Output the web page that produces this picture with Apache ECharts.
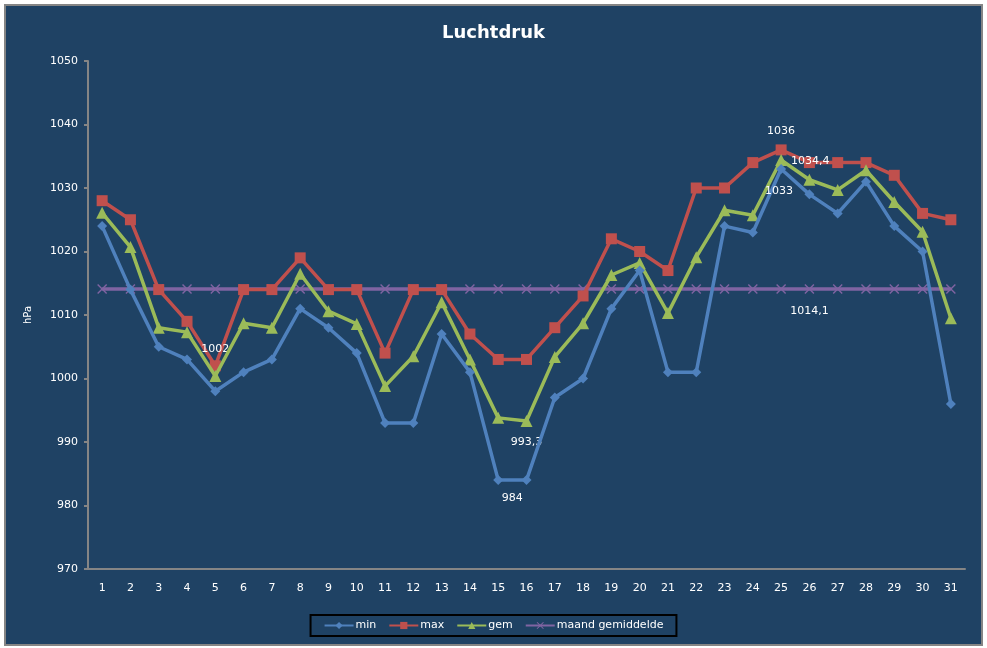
<!DOCTYPE html>
<html>
<head>
<meta charset="utf-8">
<script src="https://cdn.jsdelivr.net/npm/echarts@6/dist/echarts.min.js"></script>
<style>
  html, body { margin: 0; padding: 0; background: #ffffff; }
  #chart { width: 987px; height: 648px; }
</style>
</head>
<body>
<div id="chart"></div>
<script>
// dagen van de maand
const dagen = Array.from({ length: 31 }, (_, i) => String(i + 1));

// luchtdruk per dag (hPa)
const minWaarden = [1024, 1014, 1005, 1003, 998, 1001, 1003, 1011, 1008, 1004, 993, 993, 1007, 1001, 984, 984,
    997, 1000, 1011, 1017, 1001, 1001, 1024, 1023, 1033, 1029, 1026, 1031, 1024, 1020, 996];
const maxWaarden = [1028, 1025, 1014, 1009, 1002, 1014, 1014, 1019, 1014, 1014, 1004, 1014, 1014, 1007, 1003, 1003,
    1008, 1013, 1022, 1020, 1017, 1030, 1030, 1034, 1036, 1034, 1034, 1034, 1032, 1026, 1025];
const gemWaarden = [1026.1, 1020.7, 1008.0, 1007.3, 1000.4, 1008.7, 1008.0, 1016.5, 1010.6, 1008.6, 998.8, 1003.5,
    1012.0, 1003.0, 993.8, 993.3, 1003.4, 1008.7, 1016.3, 1018.2, 1010.3, 1019.1, 1026.5, 1025.7, 1034.4, 1031.3,
    1029.7, 1032.8, 1027.8, 1023.1, 1009.5];
const maandGemiddelde = 1014.1;
const maandWaarden = dagen.map(() => maandGemiddelde);

const kleuren = { min: '#4F81BD', max: '#C0504D', gem: '#9BBB59', maand: '#8064A2' };
const kruis = 'path://M0,1L1,0L5,4L9,0L10,1L6,5L10,9L9,10L5,6L1,10L0,9L4,5Z';
const fmt = v => String(v).replace('.', ',');

// labels bij een paar punten, zoals in het origineel
function metLabels(waarden, labels) {
    return waarden.map((v, i) => {
        const l = labels[i];
        if (!l) return v;
        return {
            value: v,
            label: Object.assign({ show: true, color: '#ffffff', fontSize: 11, fontFamily: 'DejaVu Sans',
                formatter: p => fmt(p.value) }, l)
        };
    });
}

const chart = echarts.init(document.getElementById('chart'));
chart.setOption({
    animation: false,
    backgroundColor: '#ffffff',
    graphic: [{
        type: 'rect', z: -10, silent: true,
        shape: { x: 5, y: 5, width: 977, height: 640 },
        style: { fill: '#1F4264', stroke: '#858585', lineWidth: 2 }
    }],
    title: {
        text: 'Luchtdruk', left: 'center', top: 19,
        textStyle: { color: '#ffffff', fontSize: 18, fontWeight: 'bold', fontFamily: 'DejaVu Sans' }
    },
    grid: { left: 88, top: 61, right: 22, bottom: 79 },
    legend: {
        bottom: 12, left: 'center',
        padding: [5, 13, 5, 13],
        borderColor: '#000000', borderWidth: 2,
        itemWidth: 29, itemHeight: 9, itemGap: 12,
        textStyle: { color: '#ffffff', fontSize: 11, fontFamily: 'DejaVu Sans', padding: [0, 0, 0, -3] },
        data: ['min', 'max', 'gem', 'maand gemiddelde']
    },
    xAxis: {
        type: 'category', data: dagen, boundaryGap: true,
        axisLine: { lineStyle: { color: '#858585', width: 2 } },
        axisTick: { length: 4, lineStyle: { color: '#858585', width: 2 } },
        axisLabel: { color: '#ffffff', fontSize: 11, fontFamily: 'DejaVu Sans', margin: 14 }
    },
    yAxis: {
        type: 'value', min: 970, max: 1050, interval: 10,
        name: 'hPa', nameLocation: 'middle', nameGap: 55, nameRotate: 90,
        nameTextStyle: { color: '#ffffff', fontSize: 10, fontFamily: 'DejaVu Sans' },
        axisLine: { show: true, lineStyle: { color: '#858585', width: 2 } },
        axisTick: { show: true, length: 4, lineStyle: { color: '#858585', width: 2 } },
        splitLine: { show: false },
        axisLabel: { color: '#ffffff', fontSize: 11, fontFamily: 'DejaVu Sans', margin: 10,
            formatter: v => String(v) }
    },
    series: [
        {
            name: 'min', type: 'line', data: metLabels(minWaarden, {
                14: { position: 'bottom', distance: 8, offset: [14, 0] },
                24: { position: 'bottom', distance: 12, offset: [-2, 0] }
            }),
            symbol: 'diamond', symbolSize: 10,
            lineStyle: { color: kleuren.min, width: 3.5 }, itemStyle: { color: kleuren.min }, z: 4
        },
        {
            name: 'max', type: 'line', data: metLabels(maxWaarden, {
                4: { position: 'top', distance: 6 },
                24: { position: 'top', distance: 8 }
            }),
            symbol: 'rect', symbolSize: 11,
            lineStyle: { color: kleuren.max, width: 3.5 }, itemStyle: { color: kleuren.max }, z: 2
        },
        {
            name: 'gem', type: 'line', data: metLabels(gemWaarden, {
                15: { position: 'bottom', distance: 10 },
                24: { position: 'right', distance: 4, offset: [0, 1] }
            }),
            symbol: 'triangle', symbolSize: 12,
            lineStyle: { color: kleuren.gem, width: 3.5 }, itemStyle: { color: kleuren.gem }, z: 3
        },
        {
            name: 'maand gemiddelde', type: 'line', data: metLabels(maandWaarden, {
                25: { position: 'bottom', distance: 12 }
            }),
            symbol: kruis, symbolSize: 10,
            lineStyle: { color: kleuren.maand, width: 3.5 }, itemStyle: { color: kleuren.maand }, z: 1
        }
    ]
});
</script>
</body>
</html>
